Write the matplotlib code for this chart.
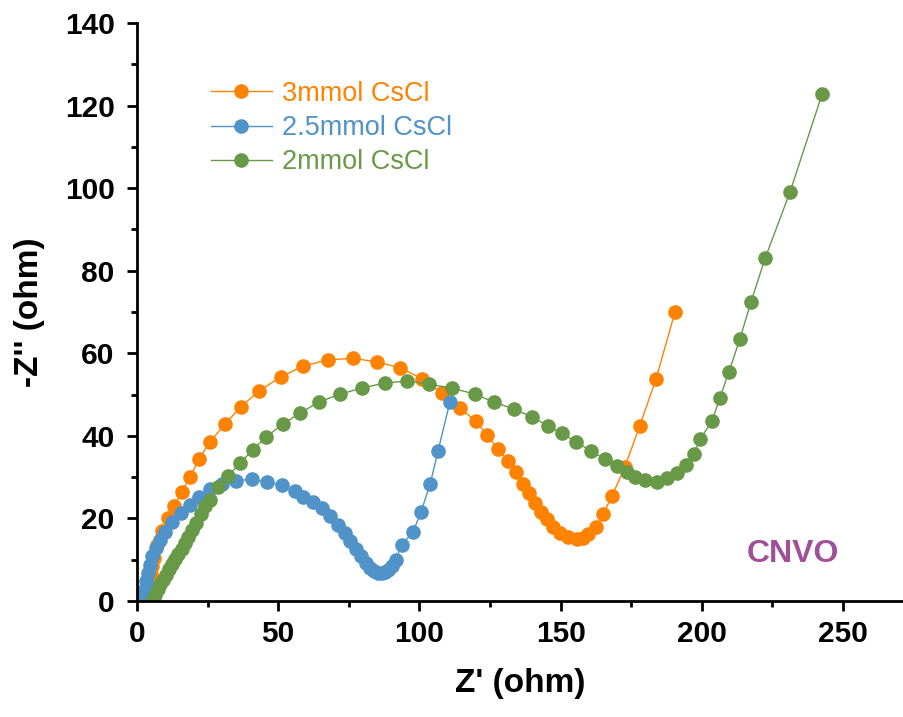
import matplotlib
matplotlib.use("Agg")
import matplotlib.pyplot as plt
from matplotlib.ticker import MultipleLocator

plt.rcParams["font.family"] = ["Liberation Sans", "DejaVu Sans"]

labels = ["3mmol CsCl", "2.5mmol CsCl", "2mmol CsCl"]
colors = ["#FF8200", "#4F93C9", "#679947"]

# 3 mmol CsCl
x_3 = [3.0, 3.3, 3.7, 4.2, 4.8, 5.5, 6.0, 7.2, 8.9, 11.0, 13.1, 15.9, 18.8, 22.0,
       25.8, 31.2, 36.8, 43.2, 51.0, 58.8, 67.6, 76.5, 85.0, 93.3, 100.9, 108.0,
       114.4, 120.0, 124.0, 127.8, 131.4, 134.2, 136.7, 138.8, 141.0, 143.0, 145.2,
       147.3, 149.8, 152.6, 155.8, 158.0, 159.7, 162.5, 165.0, 168.2, 172.8, 178.0,
       183.8, 190.5]
y_3 = [0.3, 1.5, 3.0, 4.8, 6.5, 8.5, 10.5, 13.5, 17.0, 20.1, 23.0, 26.4, 30.0, 34.4,
       38.5, 42.9, 47.0, 50.9, 54.3, 56.9, 58.4, 58.8, 57.9, 56.5, 53.8, 50.4,
       46.7, 43.6, 40.2, 36.8, 33.9, 31.2, 28.3, 26.2, 23.7, 21.6, 19.9,
       17.9, 16.5, 15.5, 15.0, 15.3, 16.2, 17.9, 21.0, 25.4, 32.5, 42.4,
       53.8, 70.0]

# 2.5 mmol CsCl
x_25 = [2.0, 2.3, 2.7, 3.2, 3.8, 4.6, 5.5, 6.6, 8.0, 9.9, 12.4, 15.6, 18.8, 22.0,
        25.8, 30.1, 35.0, 40.7, 46.0, 51.3, 56.0, 58.8, 62.3, 65.5, 68.3, 71.2,
        73.5, 75.5, 77.5, 79.3, 81.0, 82.6, 84.0, 85.3, 86.6, 87.8, 89.0, 90.2,
        91.6, 93.8, 97.7, 100.6, 103.8, 106.6, 110.8]
y_25 = [0.3, 1.5, 3.0, 4.8, 6.8, 8.8, 10.8, 12.8, 14.8, 16.7, 19.1, 21.3, 23.2, 25.2,
        27.1, 28.3, 29.1, 29.5, 28.8, 28.1, 26.6, 25.2, 24.0, 22.5, 20.6, 18.4,
        16.5, 14.5, 12.5, 10.8, 9.3, 8.1, 7.3, 6.8, 6.7, 7.0, 7.6, 8.5,
        10.0, 13.6, 16.7, 21.6, 28.3, 36.3, 48.2]

# 2 mmol CsCl
x_2 = [5.7, 6.5, 7.4, 8.3, 9.2, 10.2, 11.3, 12.4, 13.5, 14.6, 15.8, 17.0, 18.2, 19.5,
       21.0, 22.6, 24.2, 25.8, 28.7, 32.2, 36.5, 41.0, 45.7, 51.7, 57.7, 64.4, 71.9,
       79.7, 87.8, 95.6, 103.4, 111.5, 119.7, 126.4, 133.5, 139.9, 145.5, 150.5,
       155.6, 160.8, 165.6, 170.0, 173.5, 176.3, 179.9, 184.1, 187.7, 191.2, 194.4,
       197.2, 199.4, 203.6, 206.4, 209.6, 213.5, 217.4, 222.4, 231.2, 242.6]
y_2 = [0.3, 1.5, 2.8, 4.0, 5.2, 6.4, 7.7, 8.9, 10.1, 11.3, 12.6, 14.0, 15.5, 17.2,
       19.0, 21.0, 22.9, 24.5, 27.6, 30.3, 33.4, 36.6, 39.7, 42.9, 45.5, 48.2, 50.1,
       51.6, 52.8, 53.3, 52.5, 51.6, 50.1, 48.2, 46.5, 44.6, 42.4, 40.6,
       38.5, 36.3, 34.4, 32.7, 31.2, 30.0, 29.3, 28.8, 29.8, 31.0, 32.9,
       35.6, 39.2, 43.6, 49.2, 55.5, 63.5, 72.4, 83.0, 99.0, 122.8]

series = [(x_3, y_3), (x_25, y_25), (x_2, y_2)]

fig = plt.figure(figsize=(9.04, 7.17), dpi=100)
ax = fig.add_axes([0.1515, 0.1618, 0.8485, 0.806])

for (xs, ys), lab, c in zip(series, labels, colors):
    ax.plot(xs, ys, "-o", color=c, lw=1.0, ms=9.5, mec=c, label=lab)

ax.set_xlim(0, 271.6)
ax.set_ylim(0, 140)
ax.xaxis.set_major_locator(MultipleLocator(50))
ax.xaxis.set_minor_locator(MultipleLocator(25))
ax.yaxis.set_major_locator(MultipleLocator(20))
ax.yaxis.set_minor_locator(MultipleLocator(10))

for side in ("top", "right"):
    ax.spines[side].set_visible(False)
for side in ("left", "bottom"):
    ax.spines[side].set_linewidth(2.0)

ax.tick_params(which="major", length=7, width=2, labelsize=21.5, direction="out")
ax.tick_params(which="minor", length=4.5, width=2, direction="out")
ax.tick_params(axis="y", pad=9)
ax.tick_params(axis="x", pad=7)
for t in ax.get_xticklabels() + ax.get_yticklabels():
    t.set_fontweight("bold")

ax.set_xlabel("Z' (ohm)", fontsize=24, fontweight="bold", labelpad=14)
ax.set_ylabel("-Z'' (ohm)", fontsize=24, fontweight="bold", labelpad=14)

ax.legend(loc="upper left", bbox_to_anchor=(0.096, 0.9), frameon=False,
          fontsize=19.5, labelcolor="linecolor", handlelength=2.25,
          handletextpad=0.38, labelspacing=0.3, borderpad=0, borderaxespad=0)

ax.text(0.855, 0.082, "CNVO", transform=ax.transAxes, fontsize=23,
        fontweight="bold", color="#A0509A", ha="center", va="center")

fig.savefig("out.png", dpi=100)
